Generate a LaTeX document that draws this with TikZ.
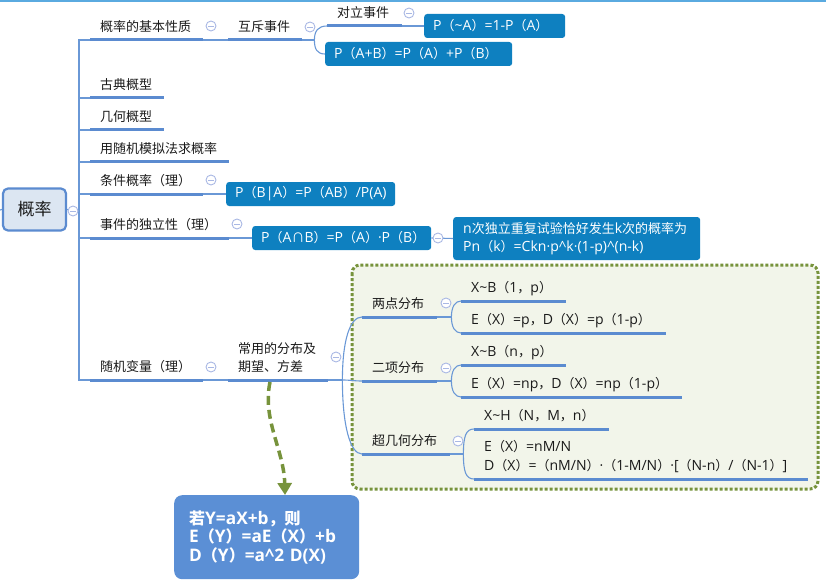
\documentclass[tikz,border=0pt]{standalone}
\usepackage{fontspec}
\setmainfont{Open Sans}[Scale=1.08]
\newfontfamily\latinfam{Open Sans}[Scale=1.08]
\newfontfamily\cjkfam{Noto Sans CJK SC}
\XeTeXinterchartokenstate=1
\def\setcls#1#2#3{\count255=#1\relax\loop\XeTeXcharclass\count255=#3\relax\ifnum\count255<#2\advance\count255 1\repeat}
\setcls{"0021}{"007E}{0}
\XeTeXcharclass"00B7=0
\setcls{"3000}{"303F}{7}
\setcls{"4E00}{"9FFF}{7}
\setcls{"FF00}{"FFEF}{7}
\XeTeXcharclass"2229=7
\XeTeXinterchartoks 0 7 = {\cjkfam}
\XeTeXinterchartoks 4095 7 = {\cjkfam}
\XeTeXinterchartoks 7 0 = {\latinfam}
\XeTeXinterchartoks 7 4095 = {\latinfam}
\usetikzlibrary{arrows.meta,calc}
\definecolor{ulc}{HTML}{5B8BD0}
\definecolor{connc}{HTML}{6A98D6}
\definecolor{boxc}{HTML}{0E80C0}
\definecolor{foldc}{HTML}{A9B8E4}
\definecolor{rootfill}{HTML}{DCE6F2}
\definecolor{gfill}{HTML}{F2F5EA}
\definecolor{gline}{HTML}{77933C}
\definecolor{ybfill}{HTML}{5B8FD5}
\definecolor{topc}{HTML}{5AAAE0}
\definecolor{txt}{HTML}{1A1A1A}
\begin{document}
\begin{tikzpicture}[x=1pt,y=-1pt,
  conn/.style={draw=connc, line width=1.1pt},
  uline/.style={draw=ulc, line width=3pt},
  topic/.style={anchor=south west, inner xsep=10pt, inner ysep=8pt, text depth=0pt,
    text width=#1pt, align=left, text=txt, font=\fontsize{13}{18}\selectfont,
    append after command={(\tikzlastnode.south west) edge[uline] (\tikzlastnode.south east)}},
  fbx/.style={anchor=west, fill=boxc, rounded corners=3pt, text=white, inner xsep=9pt,
    inner ysep=0pt, minimum height=24pt, text width=#1pt, align=left,
    font=\fontsize{13}{18}\selectfont},
  fold/.style={circle, draw=foldc, fill=white, line width=0.9pt, minimum size=10pt, inner sep=0pt,
    path picture={\draw[foldc, line width=0.9pt] ([xshift=-2.6pt]path picture bounding box.center) -- ([xshift=2.6pt]path picture bounding box.center);}},
  rootbox/.style={rectangle, rounded corners=5pt, fill=rootfill, draw=ulc, line width=2.2pt,
    minimum width=63pt, minimum height=42pt, font=\fontsize{17}{20}\selectfont, text=txt},
  ybx/.style={anchor=north west, fill=ybfill, rounded corners=8pt, text=white, inner xsep=15pt,
    text width=155pt, align=left, minimum width=185pt, minimum height=84pt,
    font=\bfseries\fontsize{16}{18.5}\selectfont},
  darrow/.style={draw=gline, line width=3.5pt, dash pattern=on 9pt off 5pt,
    -{Triangle[length=12pt,width=14pt]}},
  gframe/.style={draw=gline, line width=3pt, dash pattern=on 3pt off 2pt, fill=gfill, rounded corners=8pt}
]
\useasboundingbox (0,0) rectangle (826,580);
\draw[topc, line width=1.5pt] (0,1) -- (826,1);
\draw[gframe] (352,265) rectangle (818,489);

% nodes
\node[rootbox] (root) at (34.5,209.5) {概率};
\coordinate (lstub) at (0,210);
\coordinate (tr) at (79,211);

\node[topic=93] (basic) at (90,40) {概率的基本性质};
\node[topic=54] (mutex) at (228,40) {互斥事件};
\node[topic=55] (dl) at (327,26) {对立事件};
\node[fbx=123] (pna) at (424,26) {P（\textasciitilde A）=1-P（A）};
\node[fbx=169] (pab) at (325,54) {P（A+B）=P（A）+P（B）};
\node[topic=54] (classic) at (90,98) {古典概型};
\node[topic=54] (geo) at (90,130) {几何概型};
\node[topic=119] (sim) at (90,162) {用随机模拟法求概率};
\node[topic=93] (cond) at (90,194) {条件概率（理）};
\node[fbx=151] (pba) at (226,194) {P（B|A）=P（AB）/P(A)};
\node[topic=119] (indep) at (90,238) {事件的独立性（理）};
\node[fbx=161] (pint) at (252,238) {P（A∩B）=P（A）·P（B）};
\node[fbx=227, inner xsep=10pt, minimum height=43pt] (pn) at (453,238.5) {n次独立重复试验恰好发生k次的概率为\\Pn（k）=Ckn·p\textasciicircum k·(1-p)\textasciicircum(n-k)};
\node[topic=93] (rv) at (90,380) {随机变量（理）};
\node[topic=80, text depth=18pt] (common) at (228,380) {常用的分布及\\期望、方差};
\node[topic=55] (two) at (362,317) {两点分布};
\node[topic=55] (binom) at (362,381) {二项分布};
\node[topic=68] (hyper) at (362,454) {超几何分布};
\node[topic=85] (x1) at (461,301) {X\textasciitilde B（1，p）};
\node[topic=185] (e1) at (461,333) {E（X）=p，D（X）=p（1-p）};
\node[topic=85] (x2) at (461,365) {X\textasciitilde B（n，p）};
\node[topic=201] (e2) at (461,397) {E（X）=np，D（X）=np（1-p）};
\node[topic=115] (x3) at (474,429) {X\textasciitilde H（N，M，n）};
\node[topic=314, font=\fontsize{13}{19}\selectfont, text depth=19pt] (e3) at (474,479) {E（X）=nM/N\\D（X）=（nM/N）·（1-M/N）·[（N-n）/（N-1）]};
\node[ybx] (yb) at (174,495) {若Y=aX+b，则\\E（Y）=aE（X）+b\\D（Y）=a\textasciicircum2 D(X)};

% connectors
\draw[conn] (lstub) -- (root.west);
\draw[conn] (root.east) -- (tr);
\foreach \c in {basic,classic,geo,sim,cond,indep,rv} \draw[conn] (tr) |- (\c.south west);
\draw[conn] (basic.south east) -- (mutex.south west);
\draw[conn] (mutex.south east) -- ++(12,0) coordinate (mj);
\draw[conn] (mj) .. controls +(0,-9) and +(-9,0) .. (dl.south west);
\draw[conn] (mj) .. controls +(0,9) and +(-8,0) .. (pab.west);
\draw[conn] (dl.south east) -- (pna.west);
\draw[conn] (cond.south east) -- (pba.west);
\draw[conn] (indep.south east) -- (pint.west);
\draw[conn] (pint.east) -- (pn.west);
\draw[conn] (rv.south east) -- (common.south west);
\draw[conn] (common.south east) -- ++(14,0) coordinate (cj);
\draw[conn] (cj) .. controls +(0,-40) and +(-12,0) .. (two.south west);
\draw[conn] (cj) .. controls +(8,0) and +(-8,0) .. (binom.south west);
\draw[conn] (cj) .. controls +(0,45) and +(-12,0) .. (hyper.south west);
\draw[conn] (two.south east) -- ++(14,0) coordinate (tj);
\draw[conn] (tj) .. controls +(0,-10) and +(-6,0) .. (x1.south west);
\draw[conn] (tj) .. controls +(0,10) and +(-6,0) .. (e1.south west);
\draw[conn] (binom.south east) -- ++(14,0) coordinate (bj);
\draw[conn] (bj) .. controls +(0,-10) and +(-6,0) .. (x2.south west);
\draw[conn] (bj) .. controls +(0,10) and +(-6,0) .. (e2.south west);
\draw[conn] (hyper.south east) -- ++(13,0) coordinate (hj);
\draw[conn] (hj) .. controls +(0,-18) and +(-8,0) .. (x3.south west);
\draw[conn] (hj) .. controls +(0,18) and +(-8,0) .. (e3.south west);

\draw[darrow] (common.south west) ++(42,2) .. controls (262,420) and (284,450) .. ($(yb.north west)+(111,0)$);

% fold markers
\node[fold] (f0) at (73,211) {};
\node[fold] (f1) at (211,26) {};
\node[fold] (f2) at (310,27) {};
\node[fold] (f3) at (409,13) {};
\node[fold] (f4) at (211,180) {};
\node[fold] (f5) at (237,224) {};
\node[fold] (f6) at (438,238) {};
\node[fold] (f7) at (211,367) {};
\node[fold] (f8) at (336,357) {};
\node[fold] (f9) at (446,303) {};
\node[fold] (f10) at (446,368) {};
\node[fold] (f11) at (458,441) {};
\end{tikzpicture}
\end{document}
